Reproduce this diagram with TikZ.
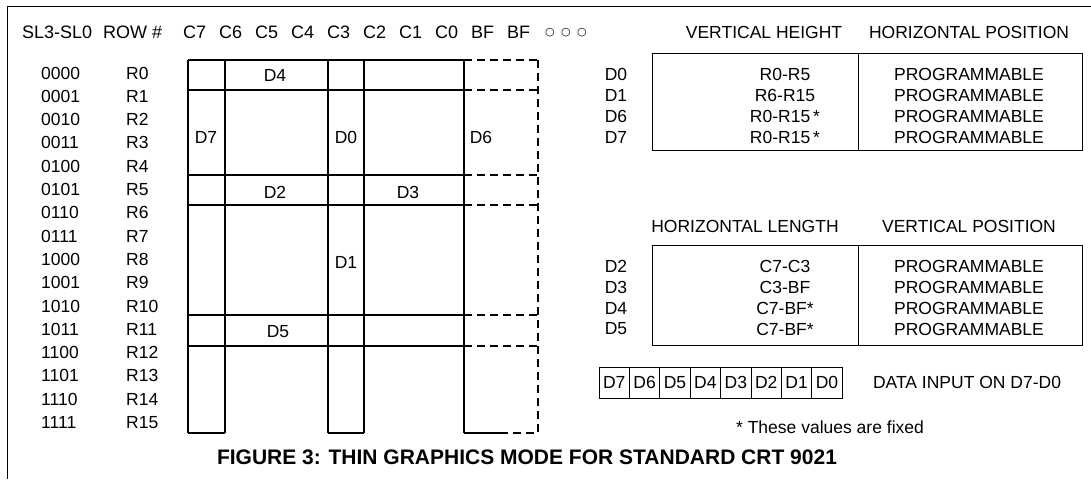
\documentclass[tikz,border=0pt]{standalone}
\usepackage{fontspec}
\setmainfont{Liberation Sans}
\newfontfamily\symfont{DejaVu Sans}
\usetikzlibrary{positioning}

\begin{document}
\begin{tikzpicture}[
    x=1pt, y=-1pt,
    txt/.style={font=\fontsize{17.5}{20}\selectfont, inner sep=0pt},
    hdr/.style={font=\fontsize{18}{21}\selectfont, inner sep=0pt},
    ttl/.style={font=\fontsize{21}{24}\selectfont\bfseries, inner sep=0pt},
    dot/.style={font=\fontsize{11}{12}\selectfont\symfont, inner sep=0pt},
    gridline/.style={line width=1.2pt},
    dashline/.style={line width=1.2pt, dash pattern=on 8pt off 5pt},
    tbl/.style={draw, line width=1pt},
    reg/.style={draw, line width=0.8pt, minimum width=30.4pt, minimum height=31pt, inner sep=0pt, font=\fontsize{17.5}{20}\selectfont}
]
\useasboundingbox (0,0) rectangle (1091,479);

% Frame
\draw[line width=1pt] (1091,6) -- (7,6) -- (7,479);

% Header
\node[hdr, anchor=west] (slhead) at (22,32) {SL3-SL0};
\node[hdr, anchor=west] (rowhead) at (103,32) {ROW \#};
\foreach \c [count=\i from 0] in {C7,C6,C5,C4,C3,C2,C1,C0,BF,BF}
    \node[hdr, anchor=west] (col\i) at (183+36*\i,32) {\c};
\foreach \i/\x in {0/550,1/566,2/582}
    \node[dot] (circ\i) at (\x,33) {○};

% Row numbers
\foreach \b [count=\n from 0] in {0000,0001,0010,0011,0100,0101,0110,0111,1000,1001,1010,1011,1100,1101,1110,1111} {
    \node[txt, anchor=west] (code\n) at (41,73+23.3*\n) {\b};
    \node[txt, anchor=west] (row\n) at (126,73+23.3*\n) {R\n};
}

% Grid
\foreach \x in {188,225,328,364,464}
    \draw[gridline] (\x,60) -- (\x,433);
\foreach \y in {60,90,175,205,315,346} {
    \draw[gridline] (188,\y) -- (464,\y);
    \draw[dashline] (464,\y) -- (538,\y);
}
\draw[dashline] (538,60) -- (538,433);
\draw[gridline] (188,433) -- (225,433);
\draw[gridline] (328,433) -- (364,433);
\draw[gridline] (464,433) -- (500,433);
\draw[dashline] (500,433) -- (538,433);

% Grid labels
\node[txt] (gd4) at (275,75) {D4};
\node[txt] (gd7) at (206,137) {D7};
\node[txt] (gd0) at (346,137) {D0};
\node[txt] (gd6) at (481,137) {D6};
\node[txt] (gd2) at (275,192) {D2};
\node[txt] (gd3) at (408,192) {D3};
\node[txt] (gd1) at (346,262) {D1};
\node[txt] (gd5) at (278,332) {D5};

% Upper table
\node[txt] (vhead) at (764,32) {VERTICAL HEIGHT};
\node[txt] (hphead) at (969,32) {HORIZONTAL POSITION};
\draw[tbl] (652,53) rectangle (1082,150);
\draw[tbl] (858,53) -- (858,150);
\foreach \d/\v [count=\i from 0] in {D0/R0-R5,D1/R6-R15,D6/R0-R15\,*,D7/R0-R15\,*} {
    \node[txt] (ud\i) at (616,74+21*\i) {\d};
    \node[txt] (uv\i) at (785,74+21*\i) {\v};
    \node[txt] (up\i) at (969,74+21*\i) {PROGRAMMABLE};
}

% Lower table
\node[txt] (hlhead) at (745,226) {HORIZONTAL LENGTH};
\node[txt] (vphead) at (969,226) {VERTICAL POSITION};
\draw[tbl] (652,245) rectangle (1082,345);
\draw[tbl] (858,245) -- (858,345);
\foreach \d/\v [count=\i from 0] in {D2/C7-C3,D3/C3-BF,D4/C7-BF*,D5/C7-BF*} {
    \node[txt] (ld\i) at (616,266+21*\i) {\d};
    \node[txt] (lv\i) at (785,266+21*\i) {\v};
    \node[txt] (lp\i) at (969,266+21*\i) {PROGRAMMABLE};
}

% Data register
\node[reg] (reg0) at (614.2,382.5) {D7};
\foreach \d [count=\i from 1, evaluate=\i as \j using int(\i-1)] in {D6,D5,D4,D3,D2,D1,D0}
    \node[reg, right=-0.8pt of reg\j] (reg\i) {\d};
\node[txt] (datain) at (967,382.5) {DATA INPUT ON D7-D0};

% Notes
\node[txt] (fixed) at (830,427) {* These values are fixed};
\node[ttl] (title) at (527,457) {FIGURE 3: THIN GRAPHICS MODE FOR STANDARD CRT 9021};
\end{tikzpicture}
\end{document}
